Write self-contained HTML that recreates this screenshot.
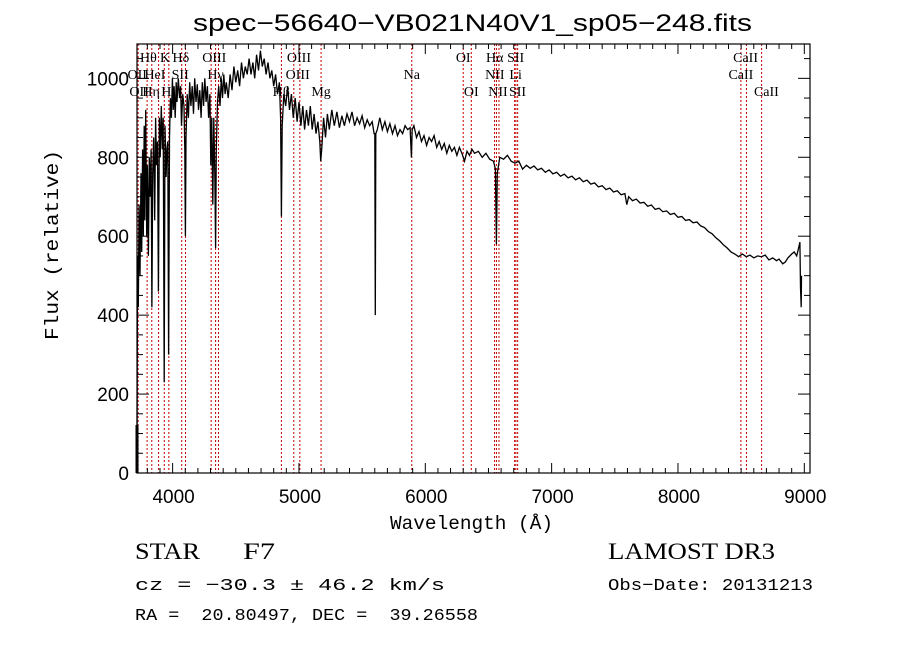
<!DOCTYPE html>
<html><head><meta charset="utf-8"><style>
body{margin:0;background:#fff;}
svg{display:block;}
</style></head><body>
<svg id="chart" width="900" height="649" xmlns="http://www.w3.org/2000/svg">
<rect width="900" height="649" fill="#fff"/>
<text x="193" y="31" font-family="Liberation Sans, sans-serif" font-size="24" textLength="559" lengthAdjust="spacingAndGlyphs">spec−56640−VB021N40V1_sp05−248.fits</text>
<g id="lines"></g>
<g id="labels" font-family="Liberation Serif, serif" font-size="14"></g>
<g id="spec"></g>
<g id="axes"></g>
<text x="390" y="529" font-family="Liberation Mono, monospace" font-size="19" textLength="163" lengthAdjust="spacingAndGlyphs">Wavelength (Å)</text>
<text transform="translate(58,340) rotate(-90)" font-family="Liberation Mono, monospace" font-size="19" textLength="190" lengthAdjust="spacingAndGlyphs">Flux (relative)</text>
<text x="135" y="559" font-family="Liberation Serif, serif" font-size="23" textLength="65" lengthAdjust="spacingAndGlyphs">STAR</text>
<text x="243" y="559" font-family="Liberation Serif, serif" font-size="23" textLength="32" lengthAdjust="spacingAndGlyphs">F7</text>
<text x="608" y="559" font-family="Liberation Serif, serif" font-size="23" textLength="167" lengthAdjust="spacingAndGlyphs">LAMOST DR3</text>
<text x="135" y="590" font-family="Liberation Mono, monospace" font-size="17" textLength="310" lengthAdjust="spacingAndGlyphs">cz = −30.3 ± 46.2 km/s</text>
<text x="608" y="590" font-family="Liberation Mono, monospace" font-size="17" textLength="205" lengthAdjust="spacingAndGlyphs">Obs−Date: 20131213</text>
<text x="135" y="620" font-family="Liberation Mono, monospace" font-size="17" xml:space="preserve" textLength="343" lengthAdjust="spacingAndGlyphs">RA =  20.80497, DEC =  39.26558</text>
</svg>
<script>
const waves=[3718,3722,3728,3735,3742,3750,3755,3762,3768,3775,3780,3787,3795,3800,3808,3815,3822,3830,3836,3842,3850,3858,3865,3872,3880,3887,3895,3902,3910,3918,3925,3933,3940,3948,3955,3962,3968,3975,3982,3990,3998,4005,4012,4020,4028,4035,4045,4055,4063,4070,4080,4090,4096,4101,4106,4115,4125,4135,4145,4155,4165,4175,4185,4195,4205,4215,4225,4235,4245,4255,4265,4275,4285,4295,4302,4310,4318,4326,4334,4340,4346,4355,4365,4375,4385,4395,4405,4415,4425,4440,4455,4470,4485,4500,4515,4530,4545,4560,4575,4590,4605,4620,4635,4650,4665,4680,4695,4710,4725,4740,4755,4770,4785,4800,4815,4830,4845,4855,4861,4867,4880,4895,4910,4925,4940,4955,4970,4985,5000,5015,5030,5045,5060,5075,5090,5105,5120,5135,5150,5165,5172,5180,5195,5210,5225,5240,5260,5280,5300,5320,5340,5360,5380,5400,5420,5440,5460,5480,5500,5520,5540,5560,5580,5595,5600,5604,5608,5620,5640,5660,5680,5700,5720,5740,5760,5780,5800,5820,5840,5860,5880,5890,5896,5910,5930,5950,5970,5990,6010,6030,6050,6070,6090,6110,6130,6150,6170,6190,6210,6230,6250,6270,6290,6310,6330,6350,6370,6390,6420,6450,6480,6510,6540,6555,6563,6570,6590,6620,6650,6680,6710,6740,6770,6800,6830,6860,6890,6920,6950,6980,7010,7040,7070,7100,7130,7160,7190,7220,7250,7280,7310,7340,7370,7400,7430,7460,7490,7520,7550,7580,7595,7610,7640,7670,7700,7730,7760,7790,7820,7850,7880,7910,7940,7970,8000,8030,8060,8090,8120,8150,8180,8210,8240,8270,8300,8330,8360,8390,8420,8450,8480,8510,8540,8570,8600,8630,8660,8690,8720,8750,8780,8800,8830,8850,8870,8900,8920,8940,8955,8965,8970,8975,8978];
const fluxes=[80,550,420,680,500,760,560,820,600,880,640,920,600,780,550,800,700,820,420,760,850,640,900,780,840,460,900,800,930,820,900,230,880,750,820,840,300,850,950,900,1000,920,980,900,990,940,1000,950,980,880,960,930,820,600,850,960,900,990,930,980,910,1000,940,985,920,970,900,990,930,1000,940,980,900,960,780,900,680,900,760,570,820,940,980,930,1000,950,1010,960,990,950,1010,970,1030,990,1020,980,1040,1000,1030,1010,1050,1010,1040,1000,1060,1020,1070,1030,1050,1010,1040,1000,1020,980,1010,960,990,900,650,880,960,930,980,920,960,900,950,890,940,880,930,870,920,880,930,870,910,860,890,840,790,820,900,850,910,870,920,880,915,875,905,880,910,890,915,880,900,885,905,875,895,880,890,860,860,400,860,870,900,870,890,865,885,860,880,855,870,860,880,870,875,800,870,880,850,865,840,855,830,850,840,855,825,840,820,835,810,830,815,825,805,825,810,790,815,805,820,810,815,800,810,795,790,770,580,760,800,795,805,790,785,790,770,780,772,778,768,772,762,768,758,762,752,757,748,752,743,748,738,742,732,735,725,728,718,722,712,715,705,708,680,700,690,694,684,686,676,679,668,671,662,664,655,658,648,650,640,642,634,636,626,622,612,606,596,588,578,570,560,555,548,555,548,552,545,550,548,552,540,545,538,542,530,535,545,555,560,550,570,585,470,420,500];
const lineWaves=[3727,3798,3835,3889,3934,3970,4072,4102,4305,4340,4363,4861,4959,5007,5175,5893,6300,6364,6548,6563,6583,6707,6717,6731,8498,8542,8662];
const labelNames=["Hθ","K","Hδ","OIII","OIII","OII","HeI","SII","Hγ","OIII","OII","Hη","H","Hβ","Mg","OI","Hα","SII","Na","NII","Li","OI","NII","SII","CaII","CaII","CaII"];
const labelWaves=[3808,3940,4065,4330,5000,3720,3860,4060,4340,4990,3735,3830,3950,4860,5175,6300,6550,6715,5893,6550,6715,6364,6575,6730,8535,8498,8700];
const labelRows=[0,0,0,0,0,1,1,1,1,1,2,2,2,2,2,0,0,0,1,1,1,2,2,2,0,1,2];
const xTicks=[4000,5000,6000,7000,8000,9000];
const yTicks=[0,200,400,600,800,1000];
const X0=137,X1=810,Y0=473,Y1=44,XMIN=3718,XMAX=9045,YMIN=0,YMAX=1087;
const xs=w=>X0+(w-XMIN)/(XMAX-XMIN)*(X1-X0);
const ys=f=>Y0-(f-YMIN)/(YMAX-YMIN)*(Y0-Y1);
const NS="http://www.w3.org/2000/svg";
function mk(tag,attrs,parent){const e=document.createElementNS(NS,tag);for(const k in attrs)e.setAttribute(k,attrs[k]);parent.appendChild(e);return e;}
const gl=document.getElementById('lines');
lineWaves.forEach(w=>{const l=mk('line',{x1:xs(w),x2:xs(w),y1:Y1,y2:Y0,stroke:'#c00000','stroke-width':1,'stroke-dasharray':'2,2'},gl);

});
const glb=document.getElementById('labels');
labelNames.forEach((n,i)=>{const t=mk('text',{x:xs(labelWaves[i]),y:62+labelRows[i]*17,'text-anchor':'middle'},glb);t.textContent=n;

});
const gs=document.getElementById('spec');
const pts=waves.map((w,i)=>xs(w).toFixed(1)+','+ys(fluxes[i]).toFixed(1)).join(' ');
const pl=mk('polyline',{points:pts,fill:'none',stroke:'#000','stroke-width':1.3},gs);


const ga=document.getElementById('axes');
const fr=mk('rect',{x:X0,y:Y1,width:X1-X0,height:Y0-Y1,fill:'none',stroke:'#000','stroke-width':1.2},ga);


mk('line',{x1:X0,x2:X0,y1:425,y2:Y0,stroke:'#000','stroke-width':3},ga);
for(let w=3800;w<=XMAX;w+=100){const maj=w%1000===0;const L=maj?10:5;
mk('line',{x1:xs(w),x2:xs(w),y1:Y0,y2:Y0-L,stroke:'#000'},ga);
mk('line',{x1:xs(w),x2:xs(w),y1:Y1,y2:Y1+L,stroke:'#000'},ga);}
for(let f=0;f<=YMAX;f+=50){const maj=f%200===0;const L=maj?12:6;
mk('line',{x1:X0,x2:X0+L,y1:ys(f),y2:ys(f),stroke:'#000'},ga);
mk('line',{x1:X1,x2:X1-L,y1:ys(f),y2:ys(f),stroke:'#000'},ga);}
xTicks.forEach(w=>{const t=mk('text',{x:xs(w)+1,y:503,'text-anchor':'middle','font-family':'Liberation Sans, sans-serif','font-size':19},ga);t.textContent=w;

});
yTicks.forEach(f=>{const t=mk('text',{x:129,y:ys(f)+7,'text-anchor':'end','font-family':'Liberation Sans, sans-serif','font-size':19},ga);t.textContent=f;

});
</script>
</body></html>
